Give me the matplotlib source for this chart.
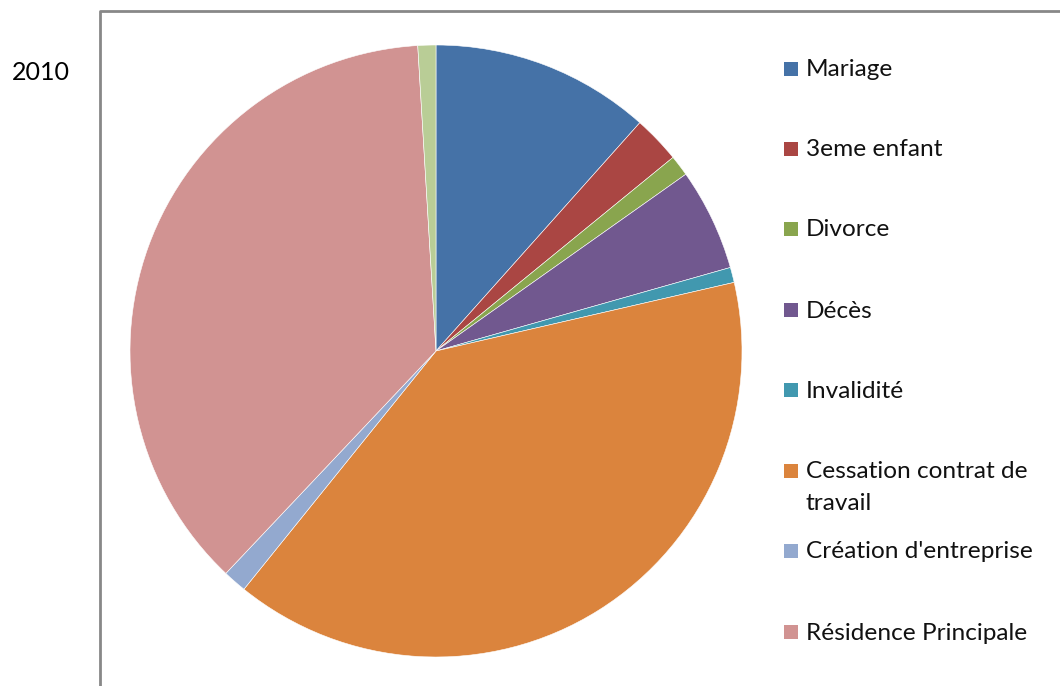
import matplotlib
matplotlib.use("Agg")
import matplotlib.pyplot as plt
from matplotlib.lines import Line2D
from matplotlib.patches import Rectangle

categories = ["Mariage", "3eme enfant", "Divorce", "Décès", "Invalidité",
              "Cessation contrat de\ntravail", "Création d'entreprise",
              "Résidence Principale", "Autre"]
values = [11.6, 2.5, 1.1, 5.4, 0.8, 39.4, 1.25, 37.0, 0.95]
colors = ["#4572A7", "#AA4643", "#89A54E", "#71588F", "#4198AF",
          "#DB843D", "#93A9CF", "#D19392", "#B9CD96"]
legend_count = 8  # the ninth entry is cut off in the reference
title = "2010"

W, H = 1060, 686
fig = plt.figure(figsize=(W / 100, H / 100), dpi=100)
fig.patch.set_facecolor("white")
FONT = "Lato"

# frame of the chart area (cropped at right and bottom)
fig.add_artist(Line2D([100 / W, 100 / W, 1.0], [0.0, 1 - 11 / H, 1 - 11 / H],
                      transform=fig.transFigure, color="#888888", lw=2))

fig.text(41 / W, 1 - 72 / H, title, ha="center", va="center",
         fontsize=18, family=FONT, color="#000000")

cx, cy, r = 436, 351, 306
ax = fig.add_axes([(cx - r) / W, (H - cy - r) / H, 2 * r / W, 2 * r / H])
ax.pie(values, colors=colors, startangle=90, counterclock=False,
       wedgeprops=dict(linewidth=0.4, edgecolor="white"))
ax.set_xlim(-1, 1)
ax.set_ylim(-1, 1)
ax.set_aspect("equal")
ax.axis("off")

# legend drawn manually to mirror the uneven spacing of the reference
leg_y = [70, 150, 230, 311, 391, 472, 552, 633]
for lab, col, y in zip(categories[:legend_count], colors[:legend_count], leg_y):
    fig.add_artist(Rectangle((784 / W, 1 - (y + 6) / H), 14 / W, 14 / H,
                             transform=fig.transFigure, facecolor=col,
                             edgecolor="none"))
    lines = lab.split("\n")
    for k, line in enumerate(lines):
        fig.text(806 / W, 1 - (y + k * 31) / H, line, ha="left", va="center",
                 fontsize=17.6, family=FONT, color="#111111")

fig.savefig("out.png", dpi=100, facecolor="white")
